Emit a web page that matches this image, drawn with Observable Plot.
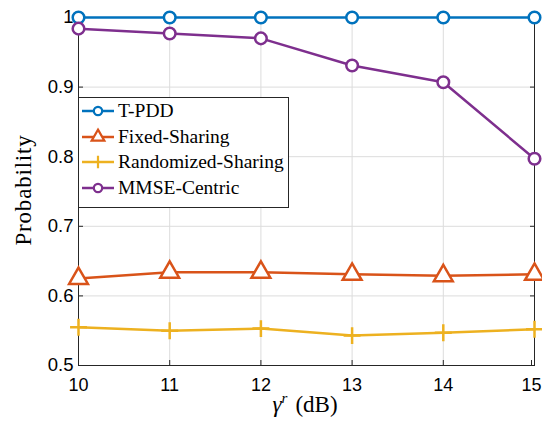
<!DOCTYPE html>
<html>
<head>
<meta charset="utf-8">
<script src="https://cdn.jsdelivr.net/npm/d3@7"></script>
<script src="https://cdn.jsdelivr.net/npm/@observablehq/plot@0.6"></script>
<style>
  html, body { margin: 0; padding: 0; background: #fff; }
  #wrap { position: relative; width: 542px; height: 425px; }
  .legend { position: absolute; left: 78px; top: 97px; width: 211px; height: 111px; border: 1px solid #262626; background: #fff; box-sizing: border-box; font-family: "Liberation Serif", "DejaVu Serif", serif; font-size: 19.5px; color: #000; }
  .legend .row { position: absolute; left: 2px; height: 24px; display: flex; align-items: center; white-space: nowrap; }
  .legend svg { margin-right: 3px; }
</style>
</head>
<body>
<div id="wrap"></div>
<script>
const gammaR = [10, 11, 12, 13, 14, 15];
const seriesNames = ["T-PDD", "Fixed-Sharing", "Randomized-Sharing", "MMSE-Centric"];
const tpdd = [1, 1, 1, 1, 1, 1];
const fixedSharing = [0.625, 0.634, 0.634, 0.631, 0.629, 0.631];
const randomizedSharing = [0.555, 0.550, 0.553, 0.543, 0.547, 0.552];
const mmseCentric = [0.984, 0.977, 0.970, 0.931, 0.907, 0.797];
const xTicks = [10, 11, 12, 13, 14, 15];
const yTicks = [0.5, 0.6, 0.7, 0.8, 0.9, 1];

const colors = ["#0072BD", "#D95319", "#EDB120", "#7E2F8E"];
const symbols = ["circle", "triangle", "plus", "circle"];
const allValues = [tpdd, fixedSharing, randomizedSharing, mmseCentric];

const data = [];
seriesNames.forEach((name, i) => {
  gammaR.forEach((g, j) => data.push({series: name, x: g, y: allValues[i][j]}));
});

const lastX = xTicks[xTicks.length - 1];
const marks = [
  Plot.gridX(xTicks, {stroke: "#dcdcdc", strokeOpacity: 1}),
  Plot.gridY(yTicks, {stroke: "#dcdcdc", strokeOpacity: 1}),
  Plot.axisX(xTicks.slice(0, -1), {tickSize: -5, tickFormat: d => d, tickPadding: 18, fontSize: 18, label: null, stroke: "#262626"}),
  Plot.axisX([lastX], {tickSize: -5, tickFormat: d => d, tickPadding: 18, fontSize: 18, dx: -3, label: null, stroke: "#262626"}),
  Plot.axisY(yTicks, {tickSize: -5, tickFormat: d => d === 1 ? "1" : d3.format(".1f")(d), tickPadding: 10, label: null, stroke: "#262626"}),
  Plot.axisY(yTicks, {anchor: "right", tickSize: -5, tickFormat: () => "", label: null, stroke: "#262626"}),
  Plot.axisX(xTicks, {anchor: "top", tickSize: -5, tickFormat: () => "", label: null, stroke: "#262626"}),
  Plot.frame({stroke: "#262626", strokeWidth: 1})
];
seriesNames.forEach((name, i) => {
  const d = data.filter(r => r.series === name);
  marks.push(Plot.line(d, {x: "x", y: "y", stroke: colors[i], strokeWidth: 2.5}));
  const sym = symbols[i];
  marks.push(Plot.dot(d, {x: "x", y: "y", symbol: () => sym, stroke: colors[i], strokeWidth: 2.5, fill: sym === "plus" ? colors[i] : "white", r: sym === "triangle" ? 7 : sym === "plus" ? 5.5 : 5.8}));
});

const chart = Plot.plot({
  width: 542,
  height: 425,
  marginLeft: 78,
  marginRight: 8,
  marginTop: 17,
  marginBottom: 60,
  style: {fontFamily: "Liberation Sans, Arial, sans-serif", fontSize: "18.5px", color: "#000", background: "#fff"},
  x: {domain: [10, 15]},
  y: {domain: [0.5, 1]},
  symbol: {type: "identity"},
  marks
});
const wrap = document.getElementById("wrap");
wrap.appendChild(chart);

const svg = d3.select(chart);
svg.append("text").attr("x", 305).attr("y", 412).attr("text-anchor", "middle")
  .style("font-family", "Liberation Serif, DejaVu Serif, serif").style("font-size", "23px")
  .html('<tspan font-style="italic">γ</tspan><tspan font-style="italic" font-size="15px" dy="-9">r</tspan><tspan dy="9" dx="8">(dB)</tspan>');
svg.append("text").attr("transform", "translate(31,190) rotate(-90)").attr("text-anchor", "middle")
  .style("font-family", "Liberation Serif, DejaVu Serif, serif").style("font-size", "23px").style("letter-spacing", "0.8px").text("Probability");

// legend
const legend = document.createElement("div");
legend.className = "legend";
seriesNames.forEach((name, i) => {
  const row = document.createElement("div");
  row.className = "row";
  row.style.top = (1 + i * 25.5) + "px";
  const s = d3.create("svg").attr("width", 34).attr("height", 20);
  s.append("line").attr("x1", 1).attr("x2", 33).attr("y1", 10).attr("y2", 10).attr("stroke", colors[i]).attr("stroke-width", 2.5);
  const t = {circle: d3.symbolCircle, triangle: d3.symbolTriangle, plus: d3.symbolPlus}[symbols[i]];
  const size = symbols[i] === "triangle" ? 70 : 55;
  s.append("path").attr("d", d3.symbol(t, size)()).attr("transform", "translate(17,10)")
    .attr("stroke", colors[i]).attr("stroke-width", 2.2).attr("fill", symbols[i] === "plus" ? colors[i] : "white");
  row.appendChild(s.node());
  const span = document.createElement("span");
  span.textContent = name;
  row.appendChild(span);
  legend.appendChild(row);
});
wrap.appendChild(legend);
</script>
</body>
</html>
